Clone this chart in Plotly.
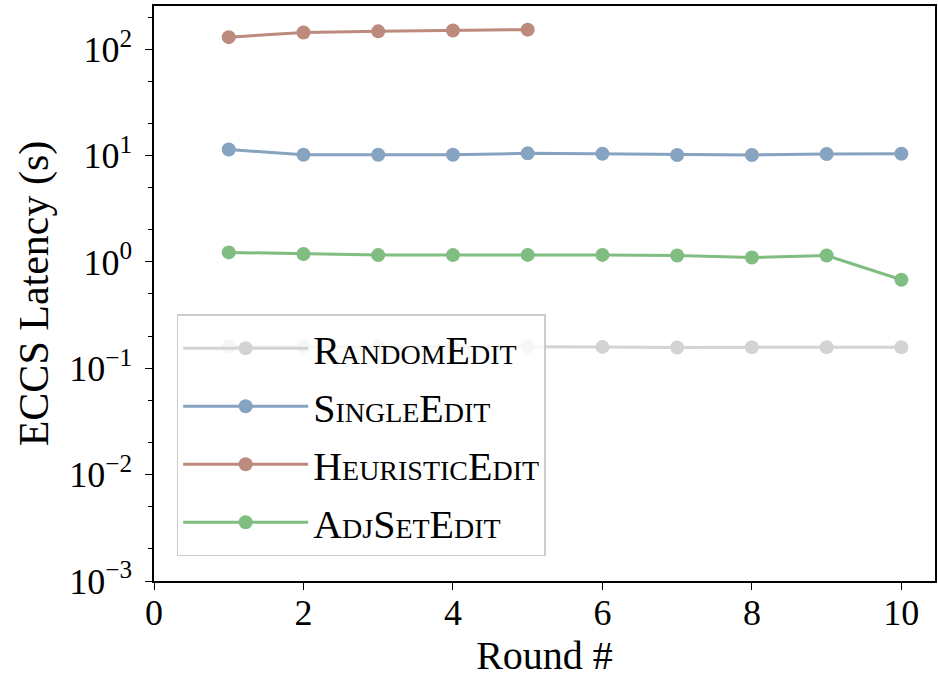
import plotly.graph_objects as go

rounds = [1, 2, 3, 4, 5, 6, 7, 8, 9, 10]
heur_rounds = [1, 2, 3, 4, 5]

random_edit = [0.16, 0.16, 0.16, 0.16, 0.16, 0.159, 0.157, 0.158, 0.158, 0.158]
single_edit = [11.4, 10.2, 10.2, 10.2, 10.5, 10.4, 10.15, 10.15, 10.35, 10.4]
heuristic_edit = [130, 144, 147.5, 150, 153]
adjset_edit = [1.23, 1.19, 1.16, 1.16, 1.165, 1.165, 1.15, 1.10, 1.15, 0.68]

names = ["RandomEdit", "SingleEdit", "HeuristicEdit", "AdjSetEdit"]
colors = ["#d3d3d3", "#86a3c0", "#bd8a7e", "#80bd80"]

y_tickvals = [1e-3, 1e-2, 1e-1, 1e0, 1e1, 1e2]
y_ticktext = ["10<sup>−3</sup>", "10<sup>−2</sup>", "10<sup>−1</sup>",
              "10<sup>0</sup>", "10<sup>1</sup>", "10<sup>2</sup>"]
x_tickvals = [0, 2, 4, 6, 8, 10]

FONT = "Liberation Serif"

fig = go.Figure()
series = [
    (rounds, random_edit),
    (rounds, single_edit),
    (heur_rounds, heuristic_edit),
    (rounds, adjset_edit),
]
for (xs, ys), name, c in zip(series, names, colors):
    fig.add_trace(go.Scatter(
        x=xs, y=ys, name=name, mode="lines+markers",
        line=dict(color=c, width=3),
        marker=dict(color=c, size=14),
        legendgroup=name,
    ))

fig.update_layout(
    width=938, height=678,
    margin=dict(l=154, r=1, t=6, b=97),
    paper_bgcolor="white", plot_bgcolor="white",
    font=dict(family=FONT, size=36, color="black"),
    showlegend=True,
    legend=dict(
        x=0.029, y=0.043, xanchor="left", yanchor="bottom",
        bgcolor="rgba(255,255,255,0.8)",
        bordercolor="#cccccc", borderwidth=1.5,
        font=dict(family=FONT, size=40, variant="small-caps"),
        traceorder="grouped", tracegroupgap=3,
        itemsizing="trace", itemwidth=125,
    ),
    xaxis=dict(
        range=[0, 10.45],
        tickvals=x_tickvals,
        ticks="outside", ticklen=7, tickwidth=1.2, tickcolor="black",
        showline=True, linecolor="black", linewidth=1.5, mirror=True,
        showgrid=False, zeroline=False,
        ticklabelstandoff=-8,
        title=dict(text="Round #", font=dict(size=40), standoff=10),
        tickfont=dict(size=36),
    ),
    yaxis=dict(
        type="log",
        range=[-3, 2.407],
        tickvals=y_tickvals, ticktext=y_ticktext,
        ticks="outside", ticklen=7, tickwidth=1.2, tickcolor="black",
        minor=dict(ticks="outside", ticklen=4, tickwidth=1, tickcolor="black", showgrid=False),
        showline=True, linecolor="black", linewidth=1.5, mirror=True,
        showgrid=False, zeroline=False,
        ticklabelstandoff=6,
        title=dict(text="ECCS Latency (s)", font=dict(size=42), standoff=8),
        tickfont=dict(size=36),
    ),
)

fig.write_html("out.html", config={"displayModeBar": False},
               post_script="document.body.style.margin='0';")
